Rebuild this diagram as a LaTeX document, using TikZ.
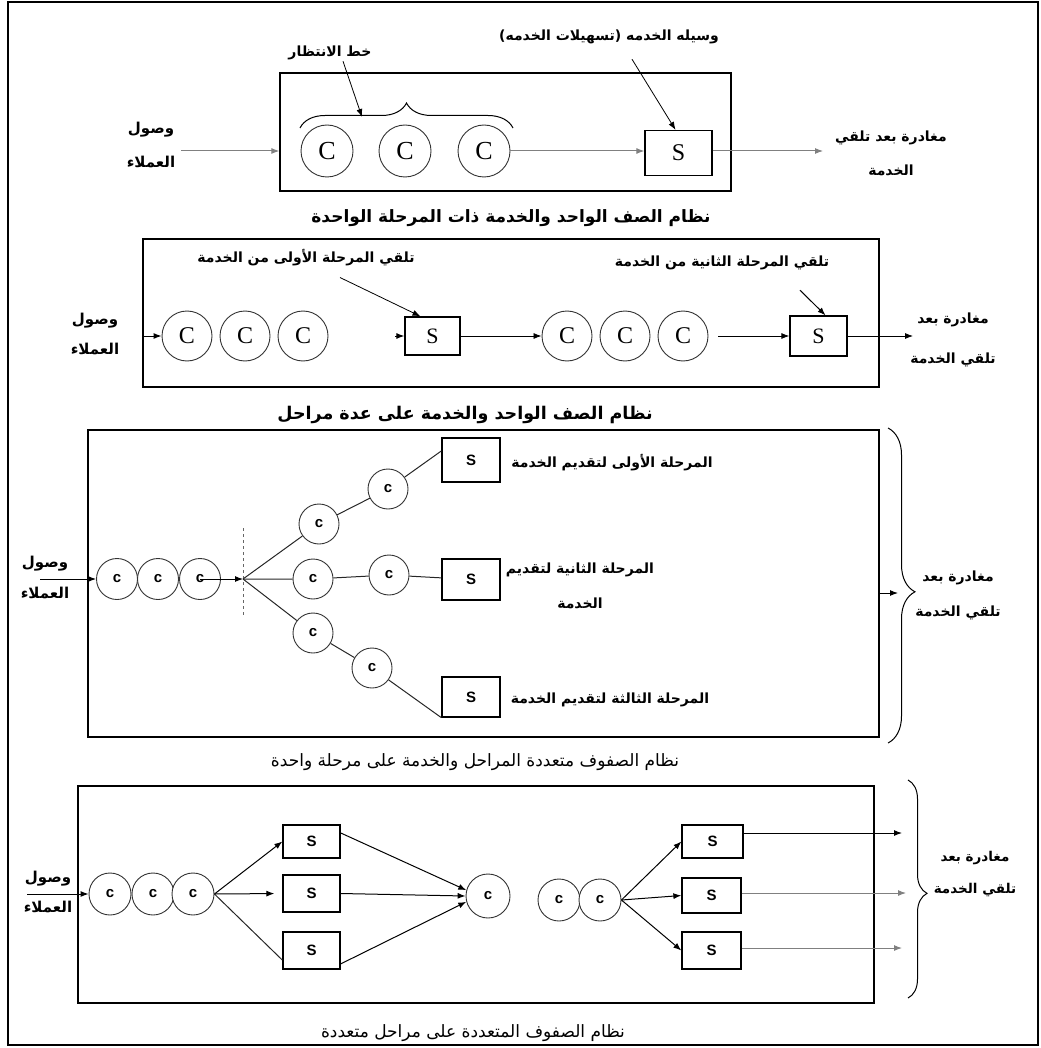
\documentclass[tikz,border=0pt]{standalone}
\usepackage{fontspec}
\usetikzlibrary{positioning, arrows.meta, decorations.pathreplacing, calc}
\setmainfont{Liberation Serif}
\setsansfont{Liberation Sans}
\newfontfamily\arabicfont[Script=Arabic]{DejaVu Sans}
\TeXXeTstate=1
\newcommand{\artxt}[1]{{\arabicfont\beginR #1\endR}}

\begin{document}
\begin{tikzpicture}[x=1pt, y=-1pt,
    % 系统方框与外框
    sysbox/.style={rectangle, draw=black, line width=1.3pt, inner sep=0pt},
    % 顾客圆圈与服务台
    cust/.style={circle, draw=black!80, line width=0.9pt, fill=white, inner sep=0pt, minimum size=#1},
    cust/.default=40pt,
    srv/.style={rectangle, draw=black, line width=1.3pt, fill=white, inner sep=0pt},
    bigl/.style={font=\fontsize{24}{24}\selectfont},
    smll/.style={font=\sffamily\bfseries\fontsize{15}{15}\selectfont},
    % 文字
    lbl/.style={inner sep=1pt, align=center, font=\bfseries\fontsize{14}{16}\selectfont},
    captxt/.style={inner sep=1pt, font=\bfseries\fontsize{17}{19}\selectfont},
    % 连线
    arr/.style={-{Latex[length=8pt, width=6pt]}, line width=1pt, color=black},
    garr/.style={arr, color=black!50},
    ln/.style={line width=1pt, color=black!85},
    brc/.style={decorate, decoration={brace, amplitude=#1}, line width=1pt},
    brc/.default=20pt,
]
\useasboundingbox (0,0) rectangle (1040,1048);

% ==================== 0. 外框 ====================
\node[sysbox, minimum width=1030pt, minimum height=1043pt] (outer) at (523,523.5) {};

% ==================== 1. 单队列 单阶段 ====================
\def\yA{151}
\node[sysbox, minimum width=451pt, minimum height=118pt] (sys1) at (505.5,132) {};
\foreach \i/\x in {1/327, 2/405, 3/484}
    \node[cust=52pt, font=\fontsize{26}{26}\selectfont] (q1\i) at (\x,\yA) {C};
\node[srv, bigl, minimum width=67pt, minimum height=45pt] (s1) at (678.5,153) {S};
\draw[brc=25pt] (300,128) -- (513,128);

\node[lbl] (wait1) at (330,53) {\artxt{خط الانتظار}};
\node[lbl] (serv1) at (609,37) {\artxt{وسيله الخدمه (تسهيلات الخدمه)}};
\node[lbl, font=\bfseries\fontsize{15}{34}\selectfont] (arr1) at (151,145) {\artxt{وصول}\\\artxt{العملاء}};
\node[lbl, font=\bfseries\fontsize{14}{34}\selectfont] (dep1) at (891,153) {\artxt{مغادرة بعد تلقي}\\\artxt{الخدمة}};
\node[captxt] (cap1) at (511,218) {\artxt{نظام الصف الواحد والخدمة ذات المرحلة الواحدة}};

\coordinate (in1) at (181,\yA);
\coordinate (out1) at (823,\yA);
\coordinate (brace1) at (362,117);
\draw[garr] (in1) -- (in1 -| sys1.west);
\draw[garr] (q13.east) -- (q13.east -| s1.west);
\draw[garr] (s1.east |- out1) -- (out1);
\draw[arr, line width=0.8pt] ([xshift=13pt]wait1.south) -- (brace1);
\draw[arr, line width=0.8pt] ([xshift=23pt, yshift=-14pt]serv1.south) -- ([xshift=-3pt]s1.north);

% ==================== 2. 单队列 多阶段 ====================
\def\yB{336}
\node[sysbox, minimum width=736pt, minimum height=148pt] (sys2) at (511,313) {};
\foreach \i/\x in {1/187, 2/245, 3/303, 4/567, 5/625, 6/683}
    \node[cust=50pt, bigl] (q2\i) at (\x,\yB) {C};
\node[srv, font=\fontsize{22}{22}\selectfont, minimum width=55pt, minimum height=38pt] (s21) at (432.5,\yB) {S};
\node[srv, font=\fontsize{22}{22}\selectfont, minimum width=57pt, minimum height=40pt] (s22) at (818.5,\yB) {S};

\node[lbl] (st21) at (306,258) {\artxt{تلقي المرحلة الأولى من الخدمة}};
\node[lbl] (st22) at (722,263) {\artxt{تلقي المرحلة الثانية من الخدمة}};
\node[lbl, font=\bfseries\fontsize{15}{30}\selectfont] (arr2) at (95,333.5) {\artxt{وصول}\\\artxt{العملاء}};
\node[lbl, font=\bfseries\fontsize{14}{40}\selectfont] (dep2) at (953,340) {\artxt{مغادرة بعد}\\\artxt{تلقي الخدمة}};
\node[captxt, font=\bfseries\fontsize{17.5}{19}\selectfont] (cap2) at (465,415) {\artxt{نظام الصف الواحد والخدمة على عدة مراحل}};

\coordinate (out2) at (913,\yB);
\draw[arr] (q21 -| sys2.west) -- (q21);
\draw[arr, shorten <=67pt] (q23) -- (s21);
\draw[arr, line width=0.8pt] (s21) -- (q24);
\draw[arr, line width=0.8pt, shorten <=10pt] (q26) -- (s22);
\draw[arr, line width=0.8pt] (s22) -- (out2);
\draw[arr, line width=0.8pt] ([xshift=34pt, yshift=-10pt]st21.south) -- ([xshift=-12pt]s21.north);
\draw[arr] ([xshift=78pt, yshift=-19pt]st22.south) -- ([xshift=7pt]s22.north);

% ==================== 3. 多队列 单阶段 ====================
\def\yC{579}
\node[sysbox, minimum width=791pt, minimum height=307pt] (sys3) at (483.5,583.5) {};
\foreach \i/\x in {1/117, 2/158, 3/200}
    \node[cust=41pt, smll] (q3\i) at (\x,\yC) {c};
\coordinate (fork3) at (243,\yC);
\node[cust=40pt, smll] (a1) at (319,524) {c};
\node[cust=40pt, smll] (a2) at (388,489) {c};
\node[cust=40pt, smll] (b1) at (313,579) {c};
\node[cust=40pt, smll] (b2) at (389,575) {c};
\node[cust=40pt, smll] (c1) at (313,633) {c};
\node[cust=40pt, smll] (c2) at (372,668) {c};
\node[srv, smll, minimum width=58pt, minimum height=44pt] (sa) at (471,460) {S};
\node[srv, smll, minimum width=58pt, minimum height=41pt] (sb) at (471,579.5) {S};
\node[srv, smll, minimum width=58pt, minimum height=40pt] (sc) at (471,697) {S};

\node[lbl] (ph1) at (612,463) {\artxt{المرحلة الأولى لتقديم الخدمة}};
\node[lbl, font=\bfseries\fontsize{14}{35}\selectfont] (ph2) at (580,585.5) {\artxt{المرحلة الثانية لتقديم}\\\artxt{الخدمة}};
\node[lbl] (ph3) at (610,700) {\artxt{المرحلة الثالثة لتقديم الخدمة}};
\node[lbl, font=\bfseries\fontsize{15}{31}\selectfont] (arr3) at (45,577.5) {\artxt{وصول}\\\artxt{العملاء}};
\node[lbl, font=\bfseries\fontsize{14}{35}\selectfont] (dep3) at (958,595.5) {\artxt{مغادرة بعد}\\\artxt{تلقي الخدمة}};
\node[captxt, font=\fontsize{17}{19}\selectfont] (cap3) at (475,762) {\artxt{نظام الصفوف متعددة المراحل والخدمة على مرحلة واحدة}};

\coordinate (in3) at (40,\yC);
\coordinate (out3) at (898,593);
\draw[arr] (in3) -- (q31);
\draw[arr] (q33.center) -- (fork3);
\draw[dashed, line width=0.8pt, black!60] ([yshift=51pt]fork3) -- ([yshift=-38pt]fork3);
\draw[ln] (fork3) -- (a1) -- (a2) -- ($(sa.north west)!0.3!(sa.south west)$);
\draw[ln] (fork3) -- (b1) -- (b2) -- (sb);
\draw[ln] (fork3) -- (c1) -- (c2) -- (sc.south west);
\draw[brc=27pt, decoration={aspect=0.52}] (888,428) -- (888,743);
\draw[arr] (out3 -| sys3.east) -- (out3);

% ==================== 4. 多队列 多阶段 ====================
\def\yD{894}
\node[sysbox, minimum width=796pt, minimum height=217pt] (sys4) at (476,894.5) {};
\foreach \i/\x in {1/110, 2/153, 3/193}
    \node[cust=42pt, smll] (p\i) at (\x,\yD) {c};
\node[srv, smll, minimum width=57pt, minimum height=33pt] (t1) at (311.5,841.5) {S};
\node[srv, smll, minimum width=57pt, minimum height=37pt] (t2) at (311.5,893.5) {S};
\node[srv, smll, minimum width=57pt, minimum height=37pt] (t3) at (311.5,950.5) {S};
\node[cust=44pt, smll] (m) at (488,896) {c};
\node[cust=42pt, smll] (r1) at (559,900) {c};
\node[cust=42pt, smll] (r2) at (600,900) {c};
\node[srv, smll, minimum width=61pt, minimum height=33pt] (u1) at (712.5,841.5) {S};
\node[srv, smll, minimum width=59pt, minimum height=35pt] (u2) at (711.5,895.5) {S};
\node[srv, smll, minimum width=59pt, minimum height=37pt] (u3) at (711.5,950.5) {S};

\node[lbl, font=\bfseries\fontsize{15}{30}\selectfont] (arr4) at (48,892) {\artxt{وصول}\\\artxt{العملاء}};
\node[lbl, font=\bfseries\fontsize{13.5}{32}\selectfont] (dep4) at (975,874) {\artxt{مغادرة بعد}\\\artxt{تلقي الخدمة}};
\node[captxt, font=\fontsize{17}{19}\selectfont] (cap4) at (473,1033) {\artxt{نظام الصفوف المتعددة على مراحل متعددة}};

\coordinate (in4) at (27,\yD);
\coordinate (out41) at (902,833);
\coordinate (out42) at (906,893);
\coordinate (out43) at (902,948);
\draw[arr] (in4) -- (p1);
\draw[arr] (p3.east) -- (t1.west);
\draw[arr, shorten >=8pt] (p3.east) -- (t2.west);
\draw[ln] (p3.east) -- ($(t3.west)!0.5!(t3.south west)$);
\draw[arr] ($(t1.north east)!0.25!(t1.south east)$) -- (m.165);
\draw[arr] (t2.east) -- (m.west);
\draw[arr] ($(t3.north east)!0.85!(t3.south east)$) -- (m.195);
\draw[arr] (r2.east) -- (u1.west);
\draw[arr] (r2.east) -- (u2.west);
\draw[arr] (r2.east) -- (u3.west);
\draw[arr] (u1.east |- out41) -- (out41);
\draw[garr] (u2.east |- out42) -- (out42);
\draw[garr] (u3.east |- out43) -- (out43);
\draw[brc=19pt, decoration={aspect=0.52}] (908,780) -- (908,998);

\end{tikzpicture}
\end{document}
